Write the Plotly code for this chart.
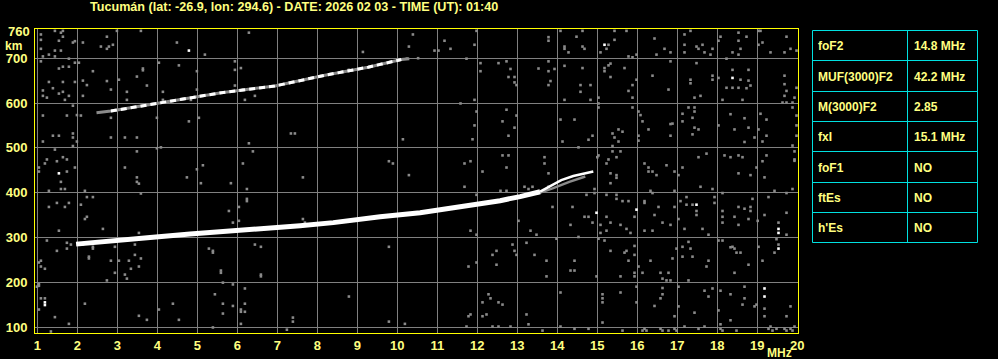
import plotly.graph_objects as go

title_text = "Tucumán (lat: -26.9, lon: 294.6) - DATE: 2026 02 03 - TIME (UT): 01:40"

freq_ticks = list(range(1, 21))
height_ticks = [100, 200, 300, 400, 500, 600, 700]
height_top_label = 760

# First-hop F2 trace (white, thick)
f2_freq = [1.97, 2.73, 3.82, 4.82, 6.07, 7.32, 7.57, 8.4, 8.57, 9.57, 10.57, 11.57, 12.07, 12.57, 13.07, 13.57]
f2_height = [285, 292, 300, 307.6, 315, 324, 326, 333, 335, 346, 355, 368, 376, 382, 391, 402]
# cusp near critical frequency: white (o) and grey (lower) strands
f2_end_freq = [13.57, 13.8, 14.1, 14.4, 14.9]
f2_end_height = [402, 413, 428, 437, 447]
f2_grey_freq = [13.5, 13.9, 14.3, 14.7]
f2_grey_height = [398, 410, 424, 436]

# Second-hop trace
hop2_freq = [2.48, 2.84, 3.86, 4.78, 5.6, 6.94, 8.19, 9.27, 10.1, 10.3]
hop2_height = [578, 582, 597, 610, 623, 638, 662, 680, 697, 699]

# scattered noise (grey)
noise_upper_left = [
    (1.09,753),(1.09,741),(1.44,761),(1.59,757),(1.64,761),(1.54,739),(1.64,748),(1.94,738),(1.89,735),(2.14,735),
    (2.74,748),(2.59,726),(2.79,726),(2.89,730),(2.74,721),(1.09,721),(1.29,708),(1.44,717),(1.59,717),(1.44,704),
    (1.14,704),(1.09,693),(1.79,699),(1.94,690),(2.04,690),(1.79,681),(1.64,681),(1.54,677),(2.39,671),(2.99,761),
    (3.59,761),(4.49,735),(5.19,708),(6.29,757),(9.14,714),(10.39,753),(10.29,726),(10.24,699),(4.04,690),(4.54,684),
    (5.94,693),(5.94,674),(6.09,678),(4.99,671),(3.64,677),(3.64,673),(3.49,659),(3.04,652),(2.74,649),(2.14,650),
    (1.94,647),(1.29,647),(1.64,647),(1.14,628),(1.39,633),(1.64,625),(1.54,621),(2.24,640),(2.14,616),(1.79,616),
    (1.69,607),(1.24,612),(1.14,616),(2.84,630),(3.24,625),(3.24,607),(3.74,639),(4.14,625),(4.14,607),(4.99,630),
    (4.84,607),(5.94,639),(6.19,607),(6.44,616),(6.14,630),(1.89,594),(1.99,573),(1.14,572),(1.74,572),(2.09,572),
    (2.84,567),(4.79,559),(5.04,567),(3.99,567),(1.89,532),(1.89,523),(1.39,527),(1.54,527),(1.14,514),(1.99,514),
    (1.89,504),(2.84,523),(3.19,523),(3.49,523),(3.99,499),(4.09,501),(7.34,532),(7.44,532),(6.29,510),(6.39,492),
    (10.14,519),(1.44,496),(1.24,474),(1.64,479),(1.74,474),(1.19,465),(1.49,470),(1.04,456),(1.04,447),(1.74,447),
    (1.94,456),(3.19,456),(3.49,492),(3.49,434),(4.74,434),(4.99,452),(5.14,461),(6.14,465),(7.64,434),(9.79,470),
    (9.89,465),(10.29,439),(8.64,670),(8.79,674),
]
noise_upper_right = [
    (10.52,700),(10.93,717),(11.03,717),(11.18,739),(11.33,721),(11.93,730),(11.98,761),(11.73,699),(12.08,689),(12.08,671),
    (12.53,689),(12.73,693),(12.83,676),(12.78,658),(12.93,658),(12.93,646),(12.98,640),(13.53,677),(13.78,693),(13.78,671),
    (13.93,676),(13.83,649),(13.78,640),(13.78,747),(13.78,739),(14.08,761),(14.18,726),(14.18,721),(14.28,713),(14.48,748),
    (14.63,761),(14.63,726),(14.68,721),(14.18,683),(14.63,678),(14.58,640),(14.58,625),(14.83,640),(14.83,607),(14.18,607),
    (14.08,563),(14.43,563),(15.03,612),(15.03,599),(15.03,590),(15.28,730),(15.43,741),(15.43,761),(15.73,761),(15.08,713),
    (15.23,721),(15.78,704),(15.88,702),(15.98,708),(15.28,684),(15.33,688),(15.18,678),(15.18,671),(15.33,658),(15.68,678),
    (15.88,640),(15.98,652),(15.78,627),(15.88,612),(15.88,590),(16.03,581),(16.08,573),(16.43,744),(16.48,708),(16.68,721),
    (16.83,713),(16.83,693),(16.38,661),(16.78,630),(17.18,753),(17.18,730),(17.33,761),(17.18,713),(17.48,726),(17.53,721),
    (17.63,730),(17.68,713),(17.83,708),(17.88,721),(17.48,689),(17.33,652),(17.33,644),(17.88,661),(17.88,652),(18.03,656),
    (18.03,739),(18.08,748),(18.23,699),(18.53,757),(18.53,739),(18.73,748),(18.38,713),(18.53,708),(18.58,721),(19.03,761),
    (19.08,761),(19.03,730),(19.13,735),(19.33,713),(19.68,713),(19.73,748),(19.83,721),(19.98,717),(18.38,674),(18.23,634),
    (18.38,634),(18.53,634),(18.58,652),(18.73,633),(18.78,650),(18.83,639),(18.78,674),(18.13,607),(18.63,607),(19.68,661),
    (19.68,642),(19.73,627),(19.68,616),(19.98,634),(19.93,612),(19.63,601),(19.73,601),(19.88,601),(19.88,590),(17.43,612),
    (17.58,616),(17.28,590),(17.43,590),(17.43,581),(17.13,576),(17.13,559),(17.38,567),(17.43,545),(17.53,541),(17.38,530),
    (16.83,553),(16.88,554),(16.83,527),(16.28,541),(16.13,559),(16.03,527),(16.03,516),(18.33,575),(18.68,566),(19.08,576),
    (19.23,563),(18.03,550),(18.43,541),(18.78,545),(18.93,523),(19.03,541),(18.68,513),(19.13,514),(19.23,527),(19.98,572),
    (19.98,550),(19.98,527),(19.88,505),(19.93,492),(19.93,471),(11.98,581),(11.93,550),(11.88,519),(11.93,607),(11.58,599),
    (12.73,585),(12.63,559),(12.93,545),(12.78,527),(12.98,572),(14.13,514),(14.53,501),(14.88,527),(14.78,518),(15.38,532),
    (15.43,523),(15.53,541),(15.63,536),(15.53,514),(15.38,504),(15.58,492),(15.38,492),(12.63,483),(12.78,483),(11.68,465),
    (11.83,470),(12.13,447),(12.73,456),(13.68,479),(13.68,465),(13.78,443),(15.0,479),(15.03,483),(15.28,474),(15.23,465),
    (15.48,479),(15.33,443),(15.48,439),(15.48,433),(16.18,465),(16.28,456),(16.28,447),(16.38,447),(16.48,439),(16.73,461),
    (16.93,447),(17.03,439),(17.13,456),(17.53,479),(17.73,487),(18.18,483),(18.33,479),(18.53,483),(18.63,479),(18.98,456),
    (18.83,439),(18.53,443),(19.13,470),(19.23,483),(19.18,434),(19.93,474),
]
noise_lower_left = [
    (1.59,424),(3.49,424),(3.54,420),(1.29,404),(1.59,408),(1.69,408),(2.19,404),(2.24,390),(2.39,390),(3.59,398),
    (5.09,421),(5.84,421),(6.24,408),(1.49,377),(1.79,377),(1.29,368),(1.69,368),(2.09,373),(6.24,386),(6.24,381),
    (6.04,368),(5.79,359),(2.19,341),(2.24,346),(1.54,315),(2.64,319),(3.54,310),(5.89,333),(6.04,337),(7.64,341),
    (7.69,333),(1.24,293),(1.74,288),(1.84,284),(1.49,270),(1.74,275),(2.14,284),(2.29,257),(2.29,253),(2.39,279),
    (2.39,275),(2.94,279),(3.44,284),(3.44,261),(2.84,248),(3.04,248),(3.29,248),(3.59,253),(1.09,248),(1.04,244),
    (1.09,235),(1.19,230),(2.94,221),(3.54,235),(3.34,230),(3.19,217),(3.24,208),(2.74,204),(1.04,196),(1.04,192),
    (0.99,190),(5.29,275),(5.39,270),(5.39,266),(6.44,284),(6.59,279),(5.59,226),(5.59,221),(6.59,217),(6.59,213),
    (9.79,279),(1.09,164),(1.19,164),(1.04,139),(1.44,122),(1.79,107),(1.34,90),(2.19,152),(4.04,139),(4.39,152),
    (4.54,116),(3.54,125),(3.74,116),(5.44,173),(5.64,199),(5.89,195),(6.19,186),(5.64,152),(5.89,147),(6.09,139),
    (6.09,134),(6.19,152),(6.19,134),(5.64,130),(6.09,107),(5.39,99),(7.24,94),(7.39,121),(7.39,112),(8.79,168),
    (9.79,112),(10.19,107),
]
noise_lower_right = [
    (11.68,413),(11.98,395),(12.58,404),(12.73,404),(13.18,413),(13.28,408),(13.38,413),(13.78,413),(13.88,368),(14.38,368),
    (14.73,395),(14.93,408),(14.93,399),(15.23,395),(15.33,421),(15.48,395),(15.48,386),(15.63,381),(15.78,381),(16.18,377),
    (16.18,381),(16.33,404),(16.38,399),(16.53,368),(16.93,404),(16.93,368),(17.08,381),(17.23,390),(17.23,373),(17.38,373),
    (17.48,359),(17.48,350),(17.58,413),(17.88,408),(17.93,390),(17.93,377),(18.13,399),(18.13,359),(18.13,346),(18.53,368),
    (18.68,364),(18.83,368),(18.83,359),(18.88,386),(19.28,390),(19.43,404),(19.73,399),(19.88,408),(19.18,350),(19.01,337),
    (19.73,355),(19.53,333),(19.73,306),(19.53,284),(19.48,296),(19.43,266),(19.03,279),(19.13,248),(18.78,239),(18.38,279),
    (18.43,275),(18.48,266),(18.58,266),(18.43,221),(18.13,293),(18.03,293),(17.78,306),(17.63,319),(18.43,346),(18.53,328),
    (18.78,341),(18.13,333),(17.78,248),(17.73,235),(17.38,257),(17.33,275),(17.13,279),(17.28,290),(17.13,257),(16.98,275),
    (16.88,253),(16.78,221),(16.58,221),(16.63,208),(16.73,204),(16.83,204),(17.28,204),(16.33,248),(16.13,221),(16.03,235),
    (15.93,213),(15.93,221),(15.93,261),(15.93,281),(15.78,248),(15.73,270),(15.68,266),(15.58,213),(15.33,270),(15.18,293),
    (15.03,297),(15.08,310),(15.08,328),(14.88,333),(14.78,346),(14.68,346),(14.33,328),(14.53,301),(15.23,315),(15.23,346),
    (15.33,333),(15.58,328),(15.73,319),(15.83,310),(15.93,346),(16.18,315),(16.38,315),(16.43,350),(16.63,333),(16.83,328),
    (17.03,341),(17.18,319),(13.03,337),(13.33,315),(13.48,306),(13.98,297),(11.83,315),(11.98,306),(11.78,235),(11.98,244),
    (12.38,261),(12.48,270),(12.48,239),(12.88,284),(12.93,270),(12.98,261),(13.23,288),(13.43,261),(13.73,248),(13.73,213),
    (14.43,248),(14.33,226),(14.43,226),(14.98,213),(14.08,177),(15.13,173),(15.13,164),(15.13,155),(15.58,177),(15.98,190),
    (15.98,155),(16.43,147),(16.63,187),(16.63,173),(16.58,164),(17.03,190),(17.03,146),(16.93,124),(17.43,132),(17.68,181),
    (17.78,168),(17.88,186),(18.08,181),(18.03,137),(18.08,106),(18.33,173),(18.33,115),(18.68,164),(18.63,150),(18.68,190),
    (18.93,146),(18.98,150),(19.18,141),(19.18,124),(19.73,124),(19.83,146),(12.28,173),(12.33,164),(12.13,155),(12.53,155),
    (12.63,150),(11.83,128),(11.78,124),(12.13,124),(12.23,128),(13.23,128),(13.28,106),(14.08,101),(11.73,101),(12.38,101),
    (12.53,101),(12.83,101),(13.63,92),(14.43,96),(14.78,96),(15.13,110),(15.63,92),(16.18,96),(16.13,92),(16.23,92),
    (16.58,96),(16.63,92),(16.78,92),(16.93,96),(16.98,92),(17.18,101),(17.53,96),(17.68,101),(18.08,96),(18.13,92),
    (18.48,92),(19.28,96),(19.33,101),(19.38,92),(19.48,96),(19.68,96),(19.73,92),(19.83,96),(19.88,92),(19.93,101),
    (18.33,278),
]
noise_white = [
    (4.79,717),(1.54,443),(15.18,730),(18.38,656),(19.53,319),(19.53,310),(19.53,275),(19.18,186),(19.18,168),
    (1.19,155),(1.19,149),(17.48,373),(14.98,355),(15.98,362),
]

table_labels = ["foF2", "MUF(3000)F2", "M(3000)F2", "fxI", "foF1", "ftEs", "h'Es"]
table_values = ["14.8 MHz", "42.2 MHz", "2.85", "15.1 MHz", "NO", "NO", "NO"]

# ---------------- styling / layout ----------------
W, H = 998, 359
ML, MR, MT, MB = 35, 200, 29, 26
PW, PH = W - ML - MR, H - MT - MB
YEL = "#FFFF00"
TXT = "#FFFF80"
GRID = "#808080"
CYAN = "#00E0E0"
FONT = "Liberation Sans"


def px_x(px):
    return (px - ML) / PW


def px_y(py):
    return (H - MB - py) / PH


fig = go.Figure()

grey_pts = noise_upper_left + noise_upper_right + noise_lower_left + noise_lower_right
fig.add_trace(go.Scatter(
    x=[p[0] for p in grey_pts], y=[p[1] for p in grey_pts], mode="markers",
    marker=dict(symbol="square", size=2.6, color="#8a8a8a", line=dict(width=0)),
    hoverinfo="skip"))

fig.add_trace(go.Scatter(x=hop2_freq, y=hop2_height, mode="lines",
                         line=dict(color="#8a8a8a", width=3), hoverinfo="skip"))
fig.add_trace(go.Scatter(x=hop2_freq[1:-1], y=hop2_height[1:-1], mode="lines",
                         line=dict(color="white", width=3, dash="6px,4px"), hoverinfo="skip"))

fig.add_trace(go.Scatter(x=f2_grey_freq, y=f2_grey_height, mode="lines",
                         line=dict(color="#8a8a8a", width=2.5), hoverinfo="skip"))
fig.add_trace(go.Scatter(x=f2_freq, y=f2_height, mode="lines",
                         line=dict(color="white", width=5), hoverinfo="skip"))
fig.add_trace(go.Scatter(x=f2_end_freq, y=f2_end_height, mode="lines",
                         line=dict(color="white", width=2.5), hoverinfo="skip"))

fig.add_trace(go.Scatter(
    x=[p[0] for p in noise_white], y=[p[1] for p in noise_white], mode="markers",
    marker=dict(symbol="square", size=2.6, color="white", line=dict(width=0)),
    hoverinfo="skip"))

tickfont = dict(family=FONT, size=13, color=TXT, weight="bold")

fig.update_layout(
    width=W, height=H,
    margin=dict(l=ML, r=MR, t=MT, b=MB, pad=0, autoexpand=False),
    paper_bgcolor="black", plot_bgcolor="black",
    showlegend=False,
    xaxis=dict(range=[0.9425, 20.0175], tickvals=freq_ticks, ticktext=[str(v) for v in freq_ticks],
               showgrid=True, gridcolor=GRID, gridwidth=1, zeroline=False,
               showline=True, mirror=True, linecolor=YEL, linewidth=1, automargin=False,
               ticks="", tickfont=tickfont, ticklabelstandoff=0, fixedrange=True),
    yaxis=dict(range=[86.6, 765.2], tickvals=height_ticks, ticktext=[str(v) for v in height_ticks],
               showgrid=True, gridcolor=GRID, gridwidth=1, zeroline=False,
               showline=True, mirror=True, linecolor=YEL, linewidth=1, automargin=False,
               ticks="", tickfont=tickfont, ticklabelstandoff=4, fixedrange=True),
)

ann = []
ann.append(dict(text=title_text, xref="paper", yref="paper", x=px_x(294), y=px_y(7.5),
                xanchor="center", yanchor="middle", showarrow=False,
                font=dict(family=FONT, size=12.6, color=TXT, weight="bold")))
ann.append(dict(text=str(height_top_label), xref="paper", yref="y", x=px_x(31.5), y=height_top_label,
                xanchor="right", yanchor="middle", showarrow=False, font=tickfont))
ann.append(dict(text="km", xref="paper", yref="paper", x=px_x(13.5), y=px_y(45.5),
                xanchor="center", yanchor="middle", showarrow=False,
                font=dict(family=FONT, size=12, color=TXT, weight="bold")))
ann.append(dict(text="MHz", xref="paper", yref="paper", x=px_x(779.5), y=px_y(352.5),
                xanchor="center", yanchor="middle", showarrow=False,
                font=dict(family=FONT, size=12, color=TXT, weight="bold")))

shapes = []
t_left, t_mid, t_right = 812.5, 907.5, 977.5
t_top, row_h = 30.5, 30.3
n_rows = len(table_labels)
row_lines = [t_top + round(i * row_h) for i in range(n_rows + 1)]
for x in (t_left, t_mid, t_right):
    shapes.append(dict(type="line", xref="paper", yref="paper", x0=px_x(x), x1=px_x(x),
                       y0=px_y(row_lines[0]), y1=px_y(row_lines[-1]), line=dict(color=CYAN, width=1)))
for yv in row_lines:
    shapes.append(dict(type="line", xref="paper", yref="paper", x0=px_x(t_left), x1=px_x(t_right),
                       y0=px_y(yv), y1=px_y(yv), line=dict(color=CYAN, width=1)))
cellfont = dict(family=FONT, size=12, color=TXT, weight="bold")
for i, (lab, val) in enumerate(zip(table_labels, table_values)):
    yc = (row_lines[i] + row_lines[i + 1]) / 2 + 0.5
    ann.append(dict(text=lab, xref="paper", yref="paper", x=px_x(816), y=px_y(yc),
                    xanchor="left", yanchor="middle", showarrow=False, font=cellfont))
    ann.append(dict(text=val, xref="paper", yref="paper", x=px_x(912), y=px_y(yc),
                    xanchor="left", yanchor="middle", showarrow=False, font=cellfont))

fig.update_layout(annotations=ann, shapes=shapes)
fig.write_html("out.html")
